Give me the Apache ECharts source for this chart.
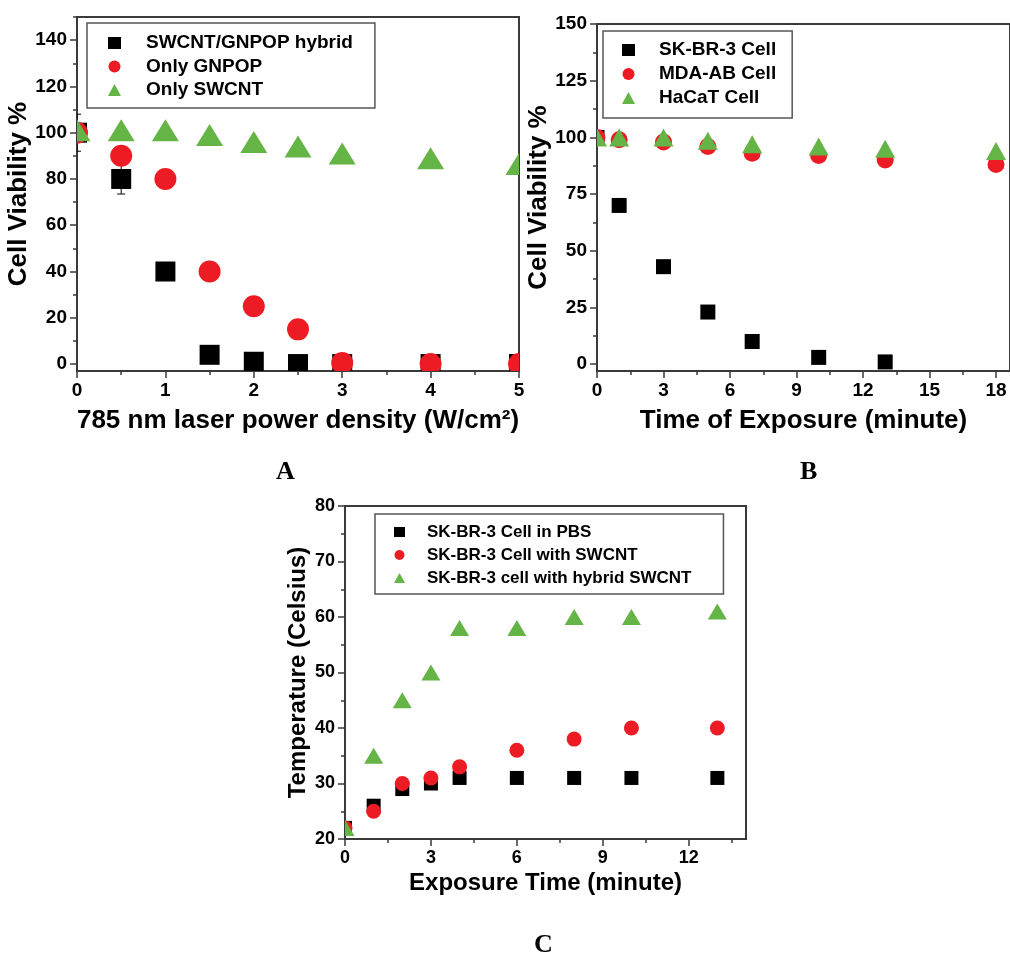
<!DOCTYPE html>
<html>
<head>
<meta charset="utf-8">
<script src="https://cdn.jsdelivr.net/npm/echarts@6/dist/echarts.min.js"></script>
<style>
  html, body { margin: 0; padding: 0; background: #fff; }
  #chart { width: 1010px; height: 955px; }
</style>
</head>
<body>
<div id="chart"></div>
<script>
// A: cell viability vs 785 nm laser power density
var powerA = [0, 0.5, 1, 1.5, 2, 2.5, 3, 4, 5]
var hybridA = [100, 80, 40, 4, 1, 0, 0, 0, 0]
var hybridErrA = [8, 6.5, 0, 0, 0, 0, 0, 0, 0]
var gnpopA = [100, 90, 80, 40, 25, 15, 0.5, 0, 0]
var swcntA = [101, 101, 101, 99, 96, 94, 91, 89, 86.5]
var namesA = ['SWCNT/GNPOP hybrid', 'Only GNPOP', 'Only SWCNT']
var xLabelsA = [0, 1, 2, 3, 4, 5]
var xMinorA = [0.5, 1.5, 2.5, 3.5, 4.5]
var yLabelsA = [0, 20, 40, 60, 80, 100, 120, 140]
var yMinorA = [10, 30, 50, 70, 90, 110, 130, 150]

// B: cell viability vs time of exposure
var timeB = [0, 1, 3, 5, 7, 10, 13, 18]
var skbrB = [100, 70, 43, 23, 10, 3, 1, null]
var mdaB = [100, 99, 98, 96, 93, 92, 90, 88]
var hacatB = [100, 100, 100, 98.5, 97, 96, 95, 94]
var namesB = ['SK-BR-3 Cell', 'MDA-AB Cell', 'HaCaT Cell']
var xLabelsB = [0, 3, 6, 9, 12, 15, 18]
var xMinorB = [1.5, 4.5, 7.5, 10.5, 13.5, 16.5]
var yLabelsB = [0, 25, 50, 75, 100, 125, 150]
var yMinorB = [12.5, 37.5, 62.5, 87.5, 112.5, 137.5]

// C: temperature vs exposure time
var timeC = [0, 1, 2, 3, 4, 6, 8, 10, 13]
var pbsC = [22, 26, 29, 30, 31, 31, 31, 31, 31]
var swcntC = [22, 25, 30, 31, 33, 36, 38, 40, 40]
var hybridC = [22, 35, 45, 50, 58, 58, 60, 60, 61]
var namesC = ['SK-BR-3 Cell in PBS', 'SK-BR-3 Cell with SWCNT', 'SK-BR-3 cell with hybrid SWCNT']
var xLabelsC = [0, 3, 6, 9, 12]
var xMinorC = [1.5, 4.5, 7.5, 10.5, 13.5]
var yLabelsC = [20, 30, 40, 50, 60, 70, 80]
var yMinorC = [25, 35, 45, 55, 65, 75]

var black = '#000000'
var red = '#ed1c24'
var green = '#64b446'
var axisColor = '#3a3a3a'
var sans = 'Liberation Sans, Arial, sans-serif'

function zip (xs, ys) {
  var out = []
  for (var i = 0; i < xs.length; i++) {
    if (ys[i] != null) out.push([xs[i], ys[i]])
  }
  return out
}

// Origin-style markers, clipped at the frame like the original
function marker (shape, w, h) {
  return function (params, api) {
    var p = api.coord([api.value(0), api.value(1)])
    var color = api.visual('color')
    if (shape === 'square') {
      return { type: 'rect', shape: { x: p[0] - w / 2, y: p[1] - w / 2, width: w, height: w }, style: { fill: color } }
    }
    if (shape === 'circle') {
      return { type: 'circle', shape: { cx: p[0], cy: p[1], r: w / 2 }, style: { fill: color } }
    }
    return {
      type: 'polygon',
      shape: { points: [[p[0], p[1] - h / 2], [p[0] + w / 2, p[1] + h / 2], [p[0] - w / 2, p[1] + h / 2]] },
      style: { fill: color }
    }
  }
}

function pointSeries (name, data, idx, color, shape, w, h) {
  return {
    name: name,
    type: 'custom',
    xAxisIndex: idx,
    yAxisIndex: idx,
    clip: true,
    itemStyle: { color: color },
    encode: { x: 0, y: 1 },
    renderItem: marker(shape, w, h),
    data: data
  }
}

function errorBars (xs, ys, errs, idx) {
  var data = []
  for (var i = 0; i < xs.length; i++) {
    if (errs[i] > 0) data.push([xs[i], ys[i], errs[i]])
  }
  return {
    type: 'custom',
    xAxisIndex: idx,
    yAxisIndex: idx,
    clip: true,
    encode: { x: 0, y: 1 },
    renderItem: function (params, api) {
      var x = api.value(0)
      var y = api.value(1)
      var e = api.value(2)
      var top = api.coord([x, y + e])
      var bot = api.coord([x, y - e])
      var s = { stroke: '#000', lineWidth: 1 }
      return {
        type: 'group',
        children: [
          { type: 'line', shape: { x1: top[0], y1: top[1], x2: bot[0], y2: bot[1] }, style: s },
          { type: 'line', shape: { x1: top[0] - 4, y1: top[1], x2: top[0] + 4, y2: top[1] }, style: s },
          { type: 'line', shape: { x1: bot[0] - 4, y1: bot[1], x2: bot[0] + 4, y2: bot[1] }, style: s }
        ]
      }
    },
    data: data
  }
}

function mainAxis (grid, pos, min, max, labels, name, gap, labelSize, nameSize) {
  return {
    type: 'value',
    gridIndex: grid,
    position: pos,
    min: min,
    max: max,
    name: name,
    nameLocation: 'middle',
    nameGap: gap,
    nameTextStyle: { fontFamily: sans, fontWeight: 'bold', fontSize: nameSize, color: '#000' },
    axisLine: { show: true, onZero: false, lineStyle: { color: axisColor, width: 2 } },
    axisTick: { show: true, inside: false, length: 7, customValues: labels, lineStyle: { color: axisColor, width: 1.5 } },
    axisLabel: { customValues: labels, margin: 10, fontFamily: sans, fontWeight: 'bold', fontSize: labelSize, color: '#000' },
    splitLine: { show: false }
  }
}

// second axis on the same side, only for the short minor ticks
function minorAxis (grid, pos, min, max, ticks) {
  return {
    type: 'value',
    gridIndex: grid,
    position: pos,
    min: min,
    max: max,
    axisLine: { show: false, onZero: false },
    axisTick: { show: true, inside: false, length: 4, customValues: ticks, lineStyle: { color: axisColor, width: 1.5 } },
    axisLabel: { show: false },
    splitLine: { show: false }
  }
}

function legendBox (names, icons, left, top, padding, gap, iconW, iconH, fontSize, textPad) {
  var font = { fontFamily: sans, fontWeight: 'bold', fontSize: fontSize, color: '#000', lineHeight: fontSize + 1 }
  return {
    data: names.map(function (n, i) { return { name: n, icon: icons[i] } }),
    orient: 'vertical',
    left: left,
    top: top,
    padding: padding,
    itemGap: gap,
    itemWidth: iconW,
    itemHeight: iconH,
    borderColor: '#555',
    borderWidth: 1.5,
    selectedMode: false,
    formatter: '{t|{name}}',
    textStyle: Object.assign({}, font, { rich: { t: Object.assign({ padding: [0, 0, 0, textPad] }, font) } })
  }
}

function letter (text, left, top) {
  return {
    text: text,
    left: left,
    top: top,
    padding: 0,
    textStyle: { fontFamily: 'Liberation Serif, Times New Roman, serif', fontWeight: 'bold', fontSize: 26, color: '#000' }
  }
}

var icons = ['rect', 'circle', 'triangle']
var gridStyle = { show: true, borderColor: axisColor, borderWidth: 2, backgroundColor: 'transparent' }

var option = {
  animation: false,
  backgroundColor: '#fff',
  title: [letter('A', 276, 459), letter('B', 800, 459), letter('C', 534, 932)],
  grid: [
    Object.assign({ left: 77, top: 17, width: 442, height: 354 }, gridStyle),
    Object.assign({ left: 597, top: 24, width: 415, height: 347 }, gridStyle),
    Object.assign({ left: 345, top: 506, width: 401, height: 333 }, gridStyle)
  ],
  xAxis: [
    mainAxis(0, 'bottom', 0, 5, xLabelsA, '785 nm laser power density (W/cm²)', 37, 19, 26),
    minorAxis(0, 'bottom', 0, 5, xMinorA),
    mainAxis(1, 'bottom', 0, 18.63, xLabelsB, 'Time of Exposure (minute)', 37, 19, 26),
    minorAxis(1, 'bottom', 0, 18.63, xMinorB),
    mainAxis(2, 'bottom', 0, 14, xLabelsC, 'Exposure Time (minute)', 32, 18, 24),
    minorAxis(2, 'bottom', 0, 14, xMinorC)
  ],
  yAxis: [
    mainAxis(0, 'left', -3, 150, yLabelsA, 'Cell Viability %', 42, 19, 26),
    minorAxis(0, 'left', -3, 150, yMinorA),
    mainAxis(1, 'left', -3, 150, yLabelsB, 'Cell Viability %', 45, 19, 26),
    minorAxis(1, 'left', -3, 150, yMinorB),
    mainAxis(2, 'left', 20, 80, yLabelsC, 'Temperature (Celsius)', 35, 18, 24),
    minorAxis(2, 'left', 20, 80, yMinorC)
  ],
  legend: [
    legendBox(namesA, icons, 87, 23, [10, 22, 8, 21], 3.5, 13, 12, 19, 20),
    legendBox(namesB, icons, 603, 31, [9, 16, 10, 19], 4, 13, 12, 19, 19),
    legendBox(namesC, icons, 375, 514, [9, 32, 7, 19], 5, 11, 10, 17, 17)
  ],
  series: [
    errorBars(powerA, hybridA, hybridErrA, 0),
    pointSeries(namesA[0], zip(powerA, hybridA), 0, black, 'square', 20),
    pointSeries(namesA[1], zip(powerA, gnpopA), 0, red, 'circle', 22),
    pointSeries(namesA[2], zip(powerA, swcntA), 0, green, 'triangle', 27, 22),
    pointSeries(namesB[0], zip(timeB, skbrB), 2, black, 'square', 15),
    pointSeries(namesB[1], zip(timeB, mdaB), 2, red, 'circle', 17),
    pointSeries(namesB[2], zip(timeB, hacatB), 2, green, 'triangle', 20, 18),
    pointSeries(namesC[0], zip(timeC, pbsC), 4, black, 'square', 14),
    pointSeries(namesC[1], zip(timeC, swcntC), 4, red, 'circle', 15),
    pointSeries(namesC[2], zip(timeC, hybridC), 4, green, 'triangle', 19, 16)
  ]
}

var myChart = echarts.init(document.getElementById('chart'))
myChart.setOption(option)
</script>
</body>
</html>
